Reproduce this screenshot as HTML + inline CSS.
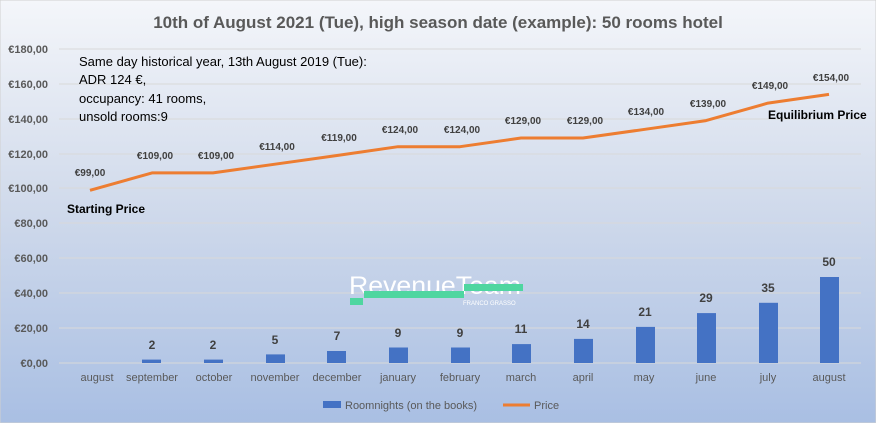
<!DOCTYPE html>
<html><head><meta charset="utf-8"><style>
body{margin:0;width:876px;height:423px;overflow:hidden;font-family:"Liberation Sans",sans-serif}
</style></head><body>
<svg width="876" height="423" xmlns="http://www.w3.org/2000/svg" font-family="Liberation Sans, sans-serif">
<defs><linearGradient id="bg" x1="0" y1="0" x2="0" y2="1">
<stop offset="0" stop-color="#f4f6fa"/><stop offset="0.45" stop-color="#d3dcec"/><stop offset="1" stop-color="#a9bfe3"/></linearGradient></defs>
<rect x="0" y="0" width="876" height="423" fill="url(#bg)" stroke="#d0d0d0"/>
<text x="438" y="28" text-anchor="middle" font-size="17" font-weight="bold" fill="#595959">10th of August 2021 (Tue), high season date (example): 50 rooms hotel</text>
<g stroke="#d9d9d9" stroke-width="1">
<line x1="59" x2="861" y1="49" y2="49"/><line x1="59" x2="861" y1="84" y2="84"/><line x1="59" x2="861" y1="119" y2="119"/><line x1="59" x2="861" y1="154" y2="154"/><line x1="59" x2="861" y1="188" y2="188"/><line x1="59" x2="861" y1="223" y2="223"/><line x1="59" x2="861" y1="258" y2="258"/><line x1="59" x2="861" y1="293" y2="293"/><line x1="59" x2="861" y1="328" y2="328"/><line x1="59" x2="861" y1="363" y2="363"/>
</g>
<g font-size="11" font-weight="bold" fill="#595959" text-anchor="end">
<text x="48" y="53">€180,00</text><text x="48" y="88">€160,00</text><text x="48" y="123">€140,00</text><text x="48" y="158">€120,00</text><text x="48" y="192">€100,00</text><text x="48" y="227">€80,00</text><text x="48" y="262">€60,00</text><text x="48" y="297">€40,00</text><text x="48" y="332">€20,00</text><text x="48" y="367">€0,00</text>
</g>
<g font-size="13" fill="#000">
<text x="79" y="66">Same day historical year, 13th August 2019 (Tue):</text>
<text x="79" y="84">ADR 124 €,</text>
<text x="79" y="103">occupancy: 41 rooms,</text>
<text x="79" y="121">unsold rooms:9</text>
</g>
<!-- logo -->
<text x="349" y="294" font-size="25" fill="#ffffff" textLength="172" lengthAdjust="spacingAndGlyphs">RevenueTeam</text>
<rect x="364" y="291" width="100" height="7" fill="#4fd6a0"/><rect x="350" y="298" width="13" height="7" fill="#4fd6a0"/><rect x="464" y="284" width="59" height="7" fill="#4fd6a0"/>
<text x="463" y="305" font-size="6" fill="#ffffff">FRANCO GRASSO</text>
<g fill="#4472c4">
<rect x="142" y="359.6" width="19" height="3.4"/><rect x="204" y="359.6" width="19" height="3.4"/><rect x="266" y="354.4" width="19" height="8.6"/><rect x="327" y="351" width="19" height="12"/><rect x="389" y="347.5" width="19" height="15.5"/><rect x="451" y="347.5" width="19" height="15.5"/><rect x="512" y="344.1" width="19" height="18.9"/><rect x="574" y="338.9" width="19" height="24.1"/><rect x="636" y="326.9" width="19" height="36.1"/><rect x="697" y="313.1" width="19" height="49.9"/><rect x="759" y="302.8" width="19" height="60.2"/><rect x="820" y="277" width="19" height="86"/>
</g>
<g font-size="12" font-weight="bold" fill="#404040" text-anchor="middle">
<text x="152" y="349">2</text><text x="213" y="349">2</text><text x="275" y="344">5</text><text x="337" y="340">7</text><text x="398" y="337">9</text><text x="460" y="337">9</text><text x="521" y="333">11</text><text x="583" y="328">14</text><text x="645" y="316">21</text><text x="706" y="302">29</text><text x="768" y="292">35</text><text x="829" y="266">50</text>
</g>
<polyline fill="none" stroke="#ed7d31" stroke-width="3" stroke-linejoin="round" points="90,190.3 152,172.9 213,172.9 275,164.2 337,155.5 398,146.7 460,146.7 521,138 583,138 645,129.3 706,120.6 768,103.1 829,94.4"/>
<g font-size="10" font-weight="bold" fill="#404040" text-anchor="middle">
<text x="90" y="176">€99,00</text><text x="155" y="159">€109,00</text><text x="216" y="159">€109,00</text><text x="277" y="150">€114,00</text><text x="339" y="141">€119,00</text><text x="400" y="133">€124,00</text><text x="462" y="133">€124,00</text><text x="523" y="124">€129,00</text><text x="585" y="124">€129,00</text><text x="646" y="115">€134,00</text><text x="708" y="107">€139,00</text><text x="770" y="89">€149,00</text><text x="831" y="81">€154,00</text>
</g>
<text x="67" y="213" font-size="12" font-weight="bold" fill="#000">Starting Price</text>
<text x="768" y="119" font-size="12" font-weight="bold" fill="#000">Equilibrium Price</text>
<g font-size="11" fill="#595959" text-anchor="middle">
<text x="97" y="381">august</text><text x="152" y="381">september</text><text x="214" y="381">october</text><text x="275" y="381">november</text><text x="337" y="381">december</text><text x="398" y="381">january</text><text x="460" y="381">february</text><text x="521" y="381">march</text><text x="583" y="381">april</text><text x="644" y="381">may</text><text x="706" y="381">june</text><text x="768" y="381">july</text><text x="829" y="381">august</text>
</g>
<rect x="323" y="401" width="18" height="7" fill="#4472c4"/>
<text x="345" y="409" font-size="11" fill="#595959">Roomnights (on the books)</text>
<line x1="503" x2="530" y1="405" y2="405" stroke="#ed7d31" stroke-width="3"/>
<text x="534" y="409" font-size="11" fill="#595959">Price</text>
</svg>
</body></html>
